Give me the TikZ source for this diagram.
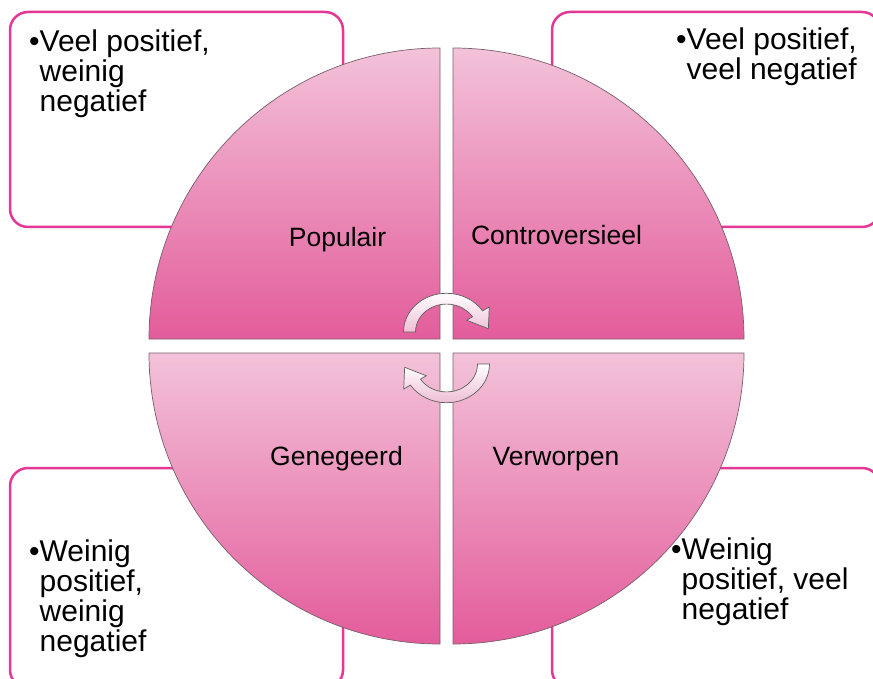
\documentclass[tikz,border=0pt]{standalone}
\usepackage{fontspec}
\setmainfont{Liberation Sans}
\definecolor{boxline}{RGB}{230,55,150}
\definecolor{quadlight}{RGB}{243,194,217}
\definecolor{quaddark}{RGB}{227,92,155}
\definecolor{quadedge}{RGB}{120,95,108}
\definecolor{arrowpink}{RGB}{238,190,213}
\definecolor{arrowedge}{RGB}{95,95,95}

\begin{document}
\begin{tikzpicture}[x=1pt, y=-1pt, every node/.style={inner sep=0pt},
	infobox/.style={draw=boxline, line width=2.5pt, rounded corners=18pt, fill=white},
	quadrant/.style={top color=quadlight, bottom color=quaddark, draw=quadedge, line width=0.7pt},
	quadlabel/.style={font=\fontsize{26.5}{30}\selectfont, anchor=base},
	infotext/.style={font=\fontsize{30}{30}\selectfont, align=left},
	cyclearrow/.style={top color=white, bottom color=arrowpink, draw=arrowedge, line width=0.7pt}]
	\useasboundingbox (0,0) rectangle (873,679);
	\clip (0,0) rectangle (873,679);
	\foreach \xa/\ya/\xb/\yb in {10/12/343/227, 552/12/880/227, 10/468/343/688, 552/468/880/688}
		\draw[infobox] (\xa,\ya) rectangle (\xb,\yb);
	\foreach \cx/\cy/\sa in {440/339/180, 453/339/270, 453/353/0, 440/353/90}
		\shade[quadrant] (\cx,\cy) -- ++(\sa:291) arc[start angle=\sa, delta angle=90, radius=291] -- cycle;
	\begin{scope}[shift={(446.5,332)}, yscale=0.9]
		\shade[cyclearrow] (180:43) arc[start angle=180, end angle=327, radius=43] -- (327:51) -- (355:42) -- (327:24) -- (327:31) arc[start angle=327, end angle=180, radius=31] -- cycle;
	\end{scope}
	\begin{scope}[shift={(446.5,364)}, yscale=0.9]
		\shade[cyclearrow] (0:43) arc[start angle=0, end angle=147, radius=43] -- (147:51) -- (175:42) -- (147:24) -- (147:31) arc[start angle=147, end angle=0, radius=31] -- cycle;
	\end{scope}
	\node[quadlabel] (populair) at (337.5,247) {Populair};
	\node[quadlabel] (controversieel) at (556.5,245) {Controversieel};
	\node[quadlabel] (genegeerd) at (336.5,465) {Genegeerd};
	\node[quadlabel] (verworpen) at (556,465) {Verworpen};
	\node[infotext, anchor=north west] (veelweinig) at (29,30) {•Veel positief,\\\phantom{•}weinig\\\phantom{•}negatief};
	\node[infotext, align=right, anchor=north east] (veelveel) at (857,28) {•Veel positief,\\veel negatief};
	\node[infotext, anchor=north west] (weinigweinig) at (29,540) {•Weinig\\\phantom{•}positief,\\\phantom{•}weinig\\\phantom{•}negatief};
	\node[infotext, anchor=north west] (weinigveel) at (671,538) {•Weinig\\\phantom{•}positief, veel\\\phantom{•}negatief};
\end{tikzpicture}
\end{document}
